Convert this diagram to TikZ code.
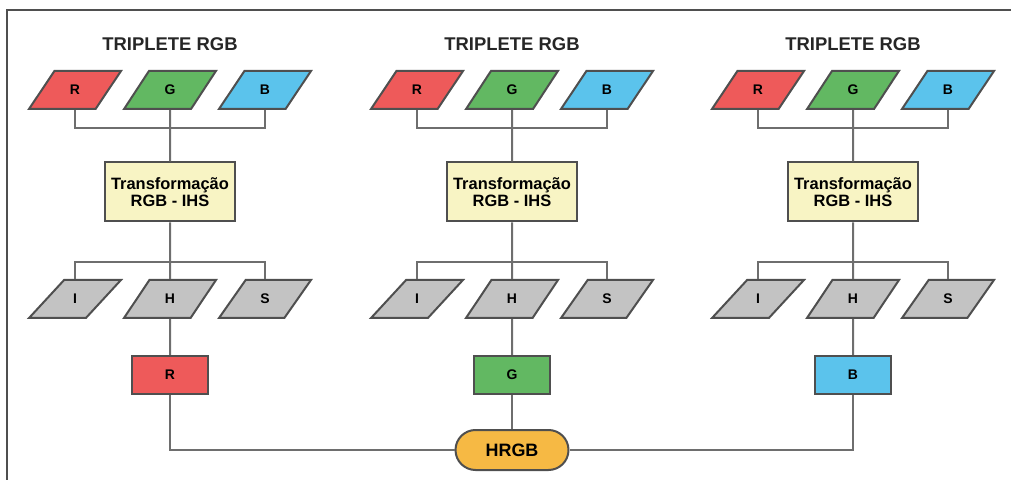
\documentclass[tikz,border=0pt]{standalone}
\usepackage{fontspec}
\setmainfont{Liberation Sans}
\usetikzlibrary{shapes.geometric}

\definecolor{redfill}{HTML}{EE5A5A}
\definecolor{greenfill}{HTML}{62B862}
\definecolor{bluefill}{HTML}{5BC3EC}
\definecolor{grayfill}{HTML}{C3C3C3}
\definecolor{yellowfill}{HTML}{F8F4C4}
\definecolor{orangefill}{HTML}{F6B944}
\definecolor{edgegray}{HTML}{4F4F4F}
\definecolor{linegray}{HTML}{6E6E6E}

\tikzset{
  title/.style={font=\bfseries\fontsize{18.5}{18.5}\selectfont, text=black!85},
  para/.style={trapezium, trapezium left angle=57, trapezium right angle=123,
    trapezium stretches, draw=edgegray, line width=2bp, inner sep=0pt,
    minimum width=92bp, minimum height=38bp,
    font=\bfseries\fontsize{14}{14}\selectfont},
  transf/.style={draw=edgegray, fill=yellowfill, line width=2bp, align=center,
    minimum width=130bp, minimum height=59bp, inner sep=0pt,
    font=\bfseries\fontsize{16.5}{17}\selectfont},
  outbox/.style={draw=edgegray, line width=2bp, minimum width=76bp,
    minimum height=38bp, inner sep=0pt, font=\bfseries\fontsize{14}{14}\selectfont},
  link/.style={draw=linegray, line width=2bp}
}

\begin{document}
\begin{tikzpicture}[x=1bp, y=-1bp]
        \useasboundingbox (0,0) rectangle (1011,480);
        % Frame
        \draw[edgegray, line width=2bp] (1011,10) -- (7,10) -- (7,480);

        % Column 1 (R)
        \node[title] (tit1) at (170,44) {TRIPLETE RGB};
        \node[para, fill=redfill] (r1) at (75,90) {R};
        \node[para, fill=greenfill] (g1) at (170,90) {G};
        \node[para, fill=bluefill] (b1) at (265,90) {B};
        \node[transf] (tr1) at (170,192) {Transformação\\RGB - IHS};
        \node[para, fill=grayfill] (i1) at (75,299) {I};
        \node[para, fill=grayfill] (h1) at (170,299) {H};
        \node[para, fill=grayfill] (s1) at (265,299) {S};
        \node[outbox, fill=redfill] (out1) at (170,375) {R};
        \coordinate (j1) at (170,128);
        \coordinate (k1) at (170,262);

        % Column 2 (G)
        \node[title] (tit2) at (512,44) {TRIPLETE RGB};
        \node[para, fill=redfill] (r2) at (417,90) {R};
        \node[para, fill=greenfill] (g2) at (512,90) {G};
        \node[para, fill=bluefill] (b2) at (607,90) {B};
        \node[transf] (tr2) at (512,192) {Transformação\\RGB - IHS};
        \node[para, fill=grayfill] (i2) at (417,299) {I};
        \node[para, fill=grayfill] (h2) at (512,299) {H};
        \node[para, fill=grayfill] (s2) at (607,299) {S};
        \node[outbox, fill=greenfill] (out2) at (512,375) {G};
        \coordinate (j2) at (512,128);
        \coordinate (k2) at (512,262);

        % Column 3 (B)
        \node[title] (tit3) at (853,44) {TRIPLETE RGB};
        \node[para, fill=redfill] (r3) at (758,90) {R};
        \node[para, fill=greenfill] (g3) at (853,90) {G};
        \node[para, fill=bluefill] (b3) at (948,90) {B};
        \node[transf] (tr3) at (853,192) {Transformação\\RGB - IHS};
        \node[para, fill=grayfill] (i3) at (758,299) {I};
        \node[para, fill=grayfill] (h3) at (853,299) {H};
        \node[para, fill=grayfill] (s3) at (948,299) {S};
        \node[outbox, fill=bluefill] (out3) at (853,375) {B};
        \coordinate (j3) at (853,128);
        \coordinate (k3) at (853,262);

        % Result
        \node[draw=edgegray, fill=orangefill, line width=2bp, rounded corners=20bp,
          minimum width=113bp, minimum height=40bp,
          font=\bfseries\fontsize{18}{18}\selectfont] (hrgb) at (512,450) {HRGB};

        % Connectors
        \foreach \c in {1,2,3} {
          \draw[link] (r\c.south) |- (j\c) -| (b\c.south);
          \draw[link] (g\c.south) -- (tr\c.north);
          \draw[link] (tr\c.south) -- (h\c.north);
          \draw[link] (i\c.north) |- (k\c) -| (s\c.north);
          \draw[link] (h\c.south) -- (out\c.north);
        }
        \draw[link] (out1.south) |- (hrgb.west);
        \draw[link] (out2.south) -- (hrgb.north);
        \draw[link] (out3.south) |- (hrgb.east);
    \end{tikzpicture}
\end{document}
